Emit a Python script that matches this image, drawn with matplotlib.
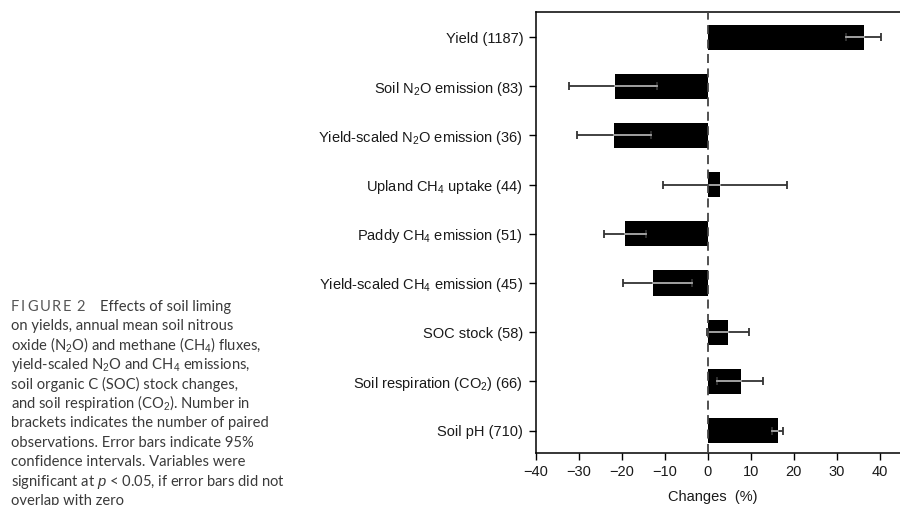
import matplotlib.pyplot as plt
import numpy as np

plt.rcParams['mathtext.fontset'] = 'custom'
plt.rcParams['mathtext.rm'] = 'Liberation Sans'
plt.rcParams['mathtext.it'] = 'Liberation Sans:italic'

labels = ['Yield (1187)', 'Soil N$_2$O emission (83)', 'Yield-scaled N$_2$O emission (36)',
          'Upland CH$_4$ uptake (44)', 'Paddy CH$_4$ emission (51)', 'Yield-scaled CH$_4$ emission (45)',
          'SOC stock (58)', 'Soil respiration (CO$_2$) (66)', 'Soil pH (710)']
changes = [36.2, -21.6, -21.8, 2.8, -19.2, -12.7, 4.6, 7.7, 16.2]
ci_low = [32.0, -32.2, -30.3, -10.5, -24.1, -19.6, -0.3, 2.2, 15.0]
ci_high = [40.2, -11.8, -13.2, 18.4, -14.4, -3.7, 9.5, 12.7, 17.4]
xticks = [-40, -30, -20, -10, 0, 10, 20, 30, 40]

caption = [
    'on yields, annual mean soil nitrous',
    'oxide (N$_2$O) and methane (CH$_4$) fluxes,',
    'yield-scaled N$_2$O and CH$_4$ emissions,',
    'soil organic C (SOC) stock changes,',
    'and soil respiration (CO$_2$). Number in',
    'brackets indicates the number of paired',
    'observations. Error bars indicate 95%',
    'confidence intervals. Variables were',
    'significant at $p$ < 0.05, if error bars did not',
    'overlap with zero',
]

fig = plt.figure(figsize=(9, 5.05), dpi=100)
ax = fig.add_axes([0.5952, 0.1036, 0.4065, 0.8727])

y = np.arange(len(labels))
vals = np.array(changes)
lo = np.array(ci_low)
hi = np.array(ci_high)

ax.barh(y, vals, height=0.51, color='black', zorder=2)
ax.errorbar(vals, y, xerr=[vals - lo, hi - vals], fmt='none', ecolor='#333333',
            elinewidth=1.3, capsize=3, capthick=1.3, zorder=3)
# part of the whisker lying over the black bar shows up light grey
for i in range(len(vals)):
    a = max(lo[i], min(0, vals[i]))
    b = min(hi[i], max(0, vals[i]))
    if b > a:
        ax.plot([a, b], [y[i], y[i]], color='#a8a8a8', lw=1.3, zorder=4)

ax.axvline(0, color='#444444', ls=(0, (5, 3)), lw=1.3, zorder=5)

ax.set_xlim(-40, 45)
ax.set_ylim(8.45, -0.51)
ax.set_yticks(y)
ax.set_yticklabels(labels, fontsize=10.5, family='Liberation Sans', color='#1a1a1a')
ax.set_xticks(xticks)
ax.set_xticklabels(['\u221240', '\u221230', '\u221220', '\u221210', '0', '10', '20', '30', '40'],
                   fontsize=10.5, family='Liberation Sans', color='#1a1a1a')
ax.tick_params(direction='out', length=5, width=1, pad=4)
ax.set_xlabel('Changes  (%)', fontsize=10.5, family='Liberation Sans', color='#1a1a1a', labelpad=10)
ax.xaxis.set_label_coords(0.485, -0.085)
for s in ax.spines.values():
    s.set_linewidth(1.1)

# caption
top = 505 - 310.7
step = 19.45
renderer = fig.canvas.get_renderer()
xpos = 11.0
for ch in 'FIGURE':
    t = fig.text(xpos / 900, top / 505, ch, fontsize=10.5, family='Lato', color='#555555',
                 va='baseline', ha='left')
    xpos += t.get_window_extent(renderer).width + 1.8
fig.text((xpos + 3) / 900, top / 505, '2', fontsize=10.5, family='Lato', color='#555555',
         va='baseline', ha='left')
fig.text(100 / 900, top / 505, 'Effects of soil liming', fontsize=10.6, family='Lato',
         color='#3a3a3a', va='baseline', ha='left')
for k, line in enumerate(caption):
    fig.text(11 / 900, (top - (k + 1) * step) / 505, line, fontsize=10.6, family='Lato',
             color='#3a3a3a', va='baseline', ha='left')

fig.savefig('out.png', dpi=100)
